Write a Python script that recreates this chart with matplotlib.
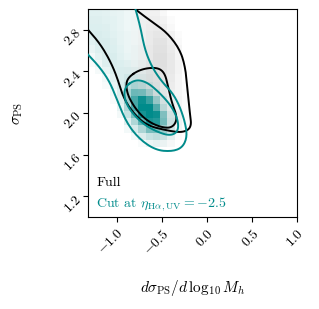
import numpy as np
import matplotlib
matplotlib.use("Agg")
import matplotlib.pyplot as plt
from matplotlib.colors import LinearSegmentedColormap

plt.rcParams['font.family'] = 'serif'
plt.rcParams['font.serif'] = ['cmr10']
plt.rcParams['mathtext.fontset'] = 'cm'
plt.rcParams['axes.unicode_minus'] = False
plt.rcParams['axes.formatter.use_mathtext'] = True

# histogram grid (bin edges)
x_edges = [-1.32, -1.24, -1.16, -1.08, -1.00, -0.92, -0.84, -0.76, -0.68, -0.60,
           -0.52, -0.44, -0.36, -0.28, -0.20, -0.12]
y_edges = [3.00, 2.93, 2.86, 2.79, 2.72, 2.65, 2.58, 2.51, 2.44, 2.37, 2.30,
           2.23, 2.16, 2.09, 2.02, 1.95, 1.88, 1.81, 1.74, 1.67, 1.60]

# "Full" sample density (grey), rows top -> bottom, cols left -> right
full_hist = np.array([
    [0.00, 0.00, 0.00, 0.00, 0.00, 0.00, 0.03, 0.08, 0.12, 0.12, 0.06, 0.00, 0.00, 0.00, 0.00],
    [0.00, 0.00, 0.00, 0.00, 0.00, 0.00, 0.03, 0.10, 0.15, 0.15, 0.10, 0.03, 0.00, 0.00, 0.00],
    [0.00, 0.00, 0.00, 0.00, 0.00, 0.00, 0.03, 0.10, 0.16, 0.18, 0.15, 0.06, 0.00, 0.00, 0.00],
    [0.00, 0.00, 0.00, 0.00, 0.00, 0.00, 0.04, 0.10, 0.18, 0.22, 0.20, 0.12, 0.03, 0.00, 0.00],
    [0.00, 0.00, 0.00, 0.00, 0.00, 0.00, 0.04, 0.10, 0.18, 0.24, 0.24, 0.16, 0.05, 0.00, 0.00],
    [0.00, 0.00, 0.00, 0.00, 0.00, 0.00, 0.05, 0.12, 0.20, 0.26, 0.26, 0.18, 0.08, 0.00, 0.00],
    [0.00, 0.00, 0.00, 0.00, 0.00, 0.00, 0.05, 0.12, 0.20, 0.28, 0.28, 0.20, 0.08, 0.00, 0.00],
    [0.00, 0.00, 0.00, 0.00, 0.00, 0.02, 0.06, 0.14, 0.22, 0.28, 0.28, 0.20, 0.10, 0.00, 0.00],
    [0.00, 0.00, 0.00, 0.00, 0.00, 0.03, 0.08, 0.16, 0.24, 0.28, 0.26, 0.20, 0.10, 0.00, 0.00],
    [0.00, 0.00, 0.00, 0.00, 0.00, 0.04, 0.10, 0.18, 0.26, 0.28, 0.24, 0.18, 0.08, 0.00, 0.00],
    [0.00, 0.00, 0.00, 0.00, 0.02, 0.06, 0.12, 0.20, 0.26, 0.26, 0.22, 0.16, 0.08, 0.02, 0.00],
    [0.00, 0.00, 0.00, 0.00, 0.02, 0.08, 0.14, 0.20, 0.24, 0.24, 0.20, 0.15, 0.08, 0.03, 0.00],
    [0.00, 0.00, 0.00, 0.00, 0.02, 0.08, 0.14, 0.20, 0.22, 0.22, 0.18, 0.15, 0.10, 0.04, 0.00],
    [0.00, 0.00, 0.00, 0.00, 0.00, 0.06, 0.12, 0.18, 0.22, 0.20, 0.18, 0.15, 0.10, 0.04, 0.00],
    [0.00, 0.00, 0.00, 0.00, 0.00, 0.04, 0.10, 0.16, 0.20, 0.20, 0.18, 0.15, 0.10, 0.04, 0.00],
    [0.00, 0.00, 0.00, 0.00, 0.00, 0.02, 0.06, 0.12, 0.16, 0.18, 0.16, 0.14, 0.08, 0.03, 0.00],
    [0.00, 0.00, 0.00, 0.00, 0.00, 0.00, 0.03, 0.08, 0.12, 0.14, 0.14, 0.10, 0.06, 0.02, 0.00],
    [0.00, 0.00, 0.00, 0.00, 0.00, 0.00, 0.00, 0.04, 0.06, 0.08, 0.08, 0.06, 0.04, 0.00, 0.00],
    [0.00, 0.00, 0.00, 0.00, 0.00, 0.00, 0.00, 0.00, 0.03, 0.04, 0.04, 0.03, 0.00, 0.00, 0.00],
    [0.00, 0.00, 0.00, 0.00, 0.00, 0.00, 0.00, 0.00, 0.00, 0.00, 0.00, 0.00, 0.00, 0.00, 0.00],
])

# "Cut" sample density (teal)
cut_hist = np.array([
    [0.12, 0.12, 0.11, 0.10, 0.09, 0.07, 0.04, 0.02, 0.00, 0.00, 0.00, 0.00, 0.00, 0.00, 0.00],
    [0.13, 0.13, 0.12, 0.11, 0.09, 0.07, 0.05, 0.02, 0.00, 0.00, 0.00, 0.00, 0.00, 0.00, 0.00],
    [0.14, 0.14, 0.13, 0.11, 0.09, 0.07, 0.05, 0.02, 0.00, 0.00, 0.00, 0.00, 0.00, 0.00, 0.00],
    [0.14, 0.15, 0.14, 0.12, 0.10, 0.08, 0.05, 0.02, 0.00, 0.00, 0.00, 0.00, 0.00, 0.00, 0.00],
    [0.12, 0.15, 0.15, 0.13, 0.10, 0.08, 0.05, 0.03, 0.00, 0.00, 0.00, 0.00, 0.00, 0.00, 0.00],
    [0.09, 0.14, 0.15, 0.14, 0.11, 0.08, 0.06, 0.03, 0.00, 0.00, 0.00, 0.00, 0.00, 0.00, 0.00],
    [0.05, 0.11, 0.15, 0.15, 0.12, 0.09, 0.06, 0.03, 0.00, 0.00, 0.00, 0.00, 0.00, 0.00, 0.00],
    [0.03, 0.07, 0.13, 0.15, 0.14, 0.11, 0.07, 0.04, 0.02, 0.00, 0.00, 0.00, 0.00, 0.00, 0.00],
    [0.00, 0.04, 0.09, 0.14, 0.15, 0.13, 0.09, 0.05, 0.03, 0.00, 0.00, 0.00, 0.00, 0.00, 0.00],
    [0.00, 0.00, 0.05, 0.11, 0.15, 0.17, 0.14, 0.08, 0.04, 0.00, 0.00, 0.00, 0.00, 0.00, 0.00],
    [0.00, 0.00, 0.03, 0.08, 0.15, 0.25, 0.30, 0.22, 0.10, 0.03, 0.00, 0.00, 0.00, 0.00, 0.00],
    [0.00, 0.00, 0.00, 0.05, 0.14, 0.32, 0.55, 0.50, 0.30, 0.10, 0.02, 0.00, 0.00, 0.00, 0.00],
    [0.00, 0.00, 0.00, 0.03, 0.12, 0.35, 0.70, 0.95, 0.75, 0.35, 0.10, 0.02, 0.00, 0.00, 0.00],
    [0.00, 0.00, 0.00, 0.00, 0.10, 0.30, 0.70, 1.00, 1.00, 0.65, 0.20, 0.05, 0.00, 0.00, 0.00],
    [0.00, 0.00, 0.00, 0.00, 0.05, 0.22, 0.50, 0.90, 1.00, 0.95, 0.45, 0.12, 0.02, 0.00, 0.00],
    [0.00, 0.00, 0.00, 0.00, 0.00, 0.12, 0.30, 0.60, 0.90, 0.85, 0.50, 0.15, 0.03, 0.00, 0.00],
    [0.00, 0.00, 0.00, 0.00, 0.00, 0.05, 0.15, 0.30, 0.50, 0.50, 0.35, 0.15, 0.03, 0.00, 0.00],
    [0.00, 0.00, 0.00, 0.00, 0.00, 0.00, 0.05, 0.12, 0.20, 0.22, 0.18, 0.08, 0.00, 0.00, 0.00],
    [0.00, 0.00, 0.00, 0.00, 0.00, 0.00, 0.00, 0.03, 0.06, 0.08, 0.06, 0.02, 0.00, 0.00, 0.00],
    [0.00, 0.00, 0.00, 0.00, 0.00, 0.00, 0.00, 0.00, 0.00, 0.00, 0.00, 0.00, 0.00, 0.00, 0.00],
])

# contour levels, in data units
full_outer_x = [-1.34, -1.19, -1.08, -1.00, -0.93, -0.82, -0.67, -0.44, -0.27, -0.17, -0.19, -0.21, -0.24, -0.30, -0.44, -0.60, -0.71, -0.83]
full_outer_y = [2.82, 2.67, 2.51, 2.35, 2.15, 2.00, 1.88, 1.83, 1.81, 1.86, 2.00, 2.19, 2.44, 2.61, 2.77, 2.87, 2.94, 3.02]
cut_outer_x = [-1.34, -1.19, -1.08, -1.00, -0.89, -0.74, -0.56, -0.38, -0.27, -0.22, -0.24, -0.30, -0.38, -0.50, -0.61, -0.69, -0.74, -0.80]
cut_outer_y = [2.58, 2.44, 2.30, 2.13, 1.90, 1.74, 1.64, 1.63, 1.67, 1.77, 1.90, 2.06, 2.19, 2.30, 2.44, 2.61, 2.83, 3.02]
full_inner_x = [-0.88, -0.74, -0.56, -0.47, -0.43, -0.39, -0.33, -0.36, -0.44, -0.60, -0.74, -0.86, -0.90]
full_inner_y = [2.34, 2.42, 2.44, 2.39, 2.25, 2.10, 1.96, 1.88, 1.85, 1.89, 1.98, 2.13, 2.25]
cut_inner_x = [-0.91, -0.80, -0.67, -0.52, -0.39, -0.32, -0.32, -0.41, -0.56, -0.72, -0.86, -0.92]
cut_inner_y = [2.25, 2.32, 2.30, 2.19, 2.06, 1.93, 1.82, 1.78, 1.82, 1.90, 2.03, 2.15]

x_ticks = [-1.0, -0.5, 0.0, 0.5, 1.0]
y_ticks = [1.2, 1.6, 2.0, 2.4, 2.8]

teal = '#008b8b'


def chaikin(xs, ys, closed, n_iter=3):
    # corner cutting, only to round off the hand-read polylines
    pts = np.column_stack([xs, ys]).astype(float)
    for _ in range(n_iter):
        p = np.vstack([pts, pts[:1]]) if closed else pts
        q = 0.75 * p[:-1] + 0.25 * p[1:]
        r = 0.25 * p[:-1] + 0.75 * p[1:]
        new = np.empty((2 * len(q), 2))
        new[0::2] = q
        new[1::2] = r
        if not closed:
            new = np.vstack([pts[:1], new, pts[-1:]])
        pts = new
    if closed:
        pts = np.vstack([pts, pts[:1]])
    return pts[:, 0], pts[:, 1]


fig = plt.figure(figsize=(3.19, 3.09), dpi=100)
ax = fig.add_axes([0.276, 0.298, 0.655, 0.673])

grey_cmap = LinearSegmentedColormap.from_list('g', [(0.35, 0.35, 0.35, 0.0), (0.35, 0.35, 0.35, 1.0)])
teal_cmap = LinearSegmentedColormap.from_list('t', [(0.0, 0.545, 0.545, 0.0), (0.0, 0.545, 0.545, 1.0)])

ax.pcolormesh(x_edges, y_edges, full_hist, cmap=grey_cmap, vmin=0, vmax=1.45, shading='flat', zorder=1)
ax.pcolormesh(x_edges, y_edges, cut_hist, cmap=teal_cmap, vmin=0, vmax=1, shading='flat', zorder=2)

ax.plot(*chaikin(full_outer_x, full_outer_y, False), color='k', lw=1.4, zorder=4)
ax.plot(*chaikin(full_inner_x, full_inner_y, True), color='k', lw=1.4, zorder=4)
ax.plot(*chaikin(cut_outer_x, cut_outer_y, False), color=teal, lw=1.4, zorder=5)
ax.plot(*chaikin(cut_inner_x, cut_inner_y, True), color=teal, lw=1.4, zorder=5)

ax.set_xlim(-1.32, 1.0)
ax.set_ylim(1.0, 3.0)
ax.set_xticks(x_ticks)
ax.set_yticks(y_ticks)
ax.set_xticklabels([f'${v:.1f}$' for v in x_ticks], rotation=45, ha='right', rotation_mode='anchor')
ax.set_yticklabels([f'${v:.1f}$' for v in y_ticks], rotation=45, ha='right', rotation_mode='anchor')
ax.tick_params(labelsize=10, length=3.5, width=0.8)

ax.set_xlabel(r'$d\sigma_{\rm PS}/d\,\log_{10}M_h$', fontsize=11, labelpad=15)
ax.set_ylabel(r'$\sigma_{\rm PS}$', fontsize=11, labelpad=26)

ax.text(0.04, 0.165, 'Full', transform=ax.transAxes, fontsize=10, color='k', va='center')
ax.text(0.04, 0.06, r'Cut at $\eta_{\rm H\alpha,UV}=-2.5$', transform=ax.transAxes,
        fontsize=10, color=teal, va='center')

fig.savefig('out.png', dpi=100)
